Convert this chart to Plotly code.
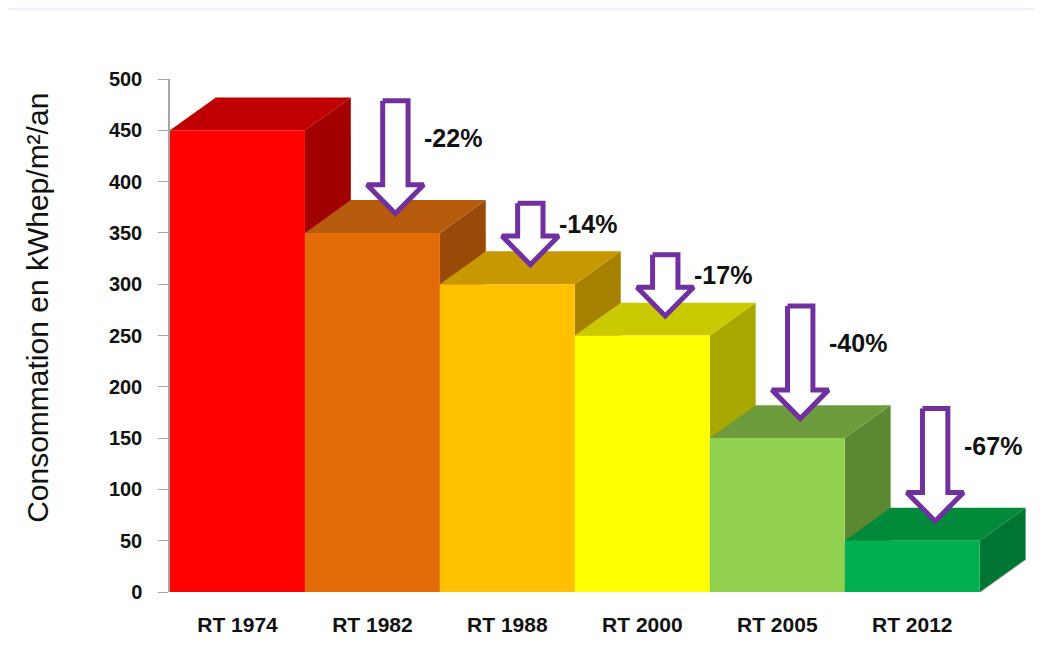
import plotly.graph_objects as go

categories = ["RT 1974", "RT 1982", "RT 1988", "RT 2000", "RT 2005", "RT 2012"]
values = [450, 350, 300, 250, 150, 50]
reductions = ["", "-22%", "-14%", "-17%", "-40%", "-67%"]
y_ticks = [0, 50, 100, 150, 200, 250, 300, 350, 400, 450, 500]

front_colors = ["#FF0000", "#E36C09", "#FFC000", "#FFFF00", "#92D050", "#00B050"]
top_colors = ["#C00000", "#B65A0B", "#C89800", "#CACA00", "#6E9C3C", "#008A3A"]
side_colors = ["#A20000", "#9A4A08", "#A88000", "#A8A800", "#5C8832", "#007632"]

FONT = "Liberation Sans, Arial, sans-serif"
DX = 0.34   # depth offset in category units
DY = 32     # depth offset in value units
HALF = 0.5
ARROW = "#7030A0"

fig = go.Figure()

def poly(xs, ys, color, line_color=None, width=0):
    fig.add_trace(go.Scatter(
        x=xs + [xs[0]], y=ys + [ys[0]], mode="lines", fill="toself",
        fillcolor=color, line=dict(color=line_color or color, width=width),
        hoverinfo="skip", showlegend=False))

# floor outline
fig.add_trace(go.Scatter(
    x=[-0.5 - 0.07, len(values) - 0.5, len(values) - 0.5 + DX],
    y=[0, 0, DY], mode="lines", line=dict(color="#A6A6A6", width=1.5),
    hoverinfo="skip", showlegend=False))

for i, v in enumerate(values):
    x0, x1 = i - HALF, i + HALF
    # side face
    poly([x1, x1 + DX, x1 + DX, x1], [0, DY, v + DY, v], side_colors[i])
    # top face
    poly([x0, x1, x1 + DX, x0 + DX], [v, v, v + DY, v + DY], top_colors[i])
    # front face
    poly([x0, x1, x1, x0], [0, 0, v, v], front_colors[i])

# arrows
for i in range(1, len(values)):
    cx = i + DX / 2
    tip = values[i] + DY / 2 + 3
    top = values[i - 1] + DY * 0.9
    head = tip + 28
    sw = 0.094
    hw = 0.21
    xs = [cx - sw, cx + sw, cx + sw, cx + hw, cx, cx - hw, cx - sw]
    ys = [top, top, head, head, tip, head, head]
    fig.add_trace(go.Scatter(
        x=xs + [xs[0]], y=ys + [ys[0]], mode="lines", fill="toself",
        fillcolor="white", line=dict(color=ARROW, width=5),
        hoverinfo="skip", showlegend=False))
    fig.add_annotation(
        x=cx + 0.2, y=top - 0.33 * (top - tip), text=reductions[i],
        showarrow=False, xanchor="left", yanchor="middle",
        font=dict(family=FONT, size=25, color="#111111", weight="bold"))

# y axis title
fig.add_annotation(
    xref="paper", yref="paper", x=-0.152, y=0.554, text="Consommation en kWhep/m²/an",
    textangle=-90, showarrow=False, xanchor="center", yanchor="middle",
    font=dict(family=FONT, size=30, color="#111111"))

# faint top band
fig.add_shape(type="rect", xref="paper", yref="paper",
              x0=-0.19, x1=1.02, y0=1.134, y1=1.143,
              fillcolor="#EEF0FA", line=dict(width=0), layer="below")

# page body has an 8px default margin; compensate so the plot lands where the reference has it
fig.update_layout(
    width=1035, height=645,
    margin=dict(l=162, r=5, t=71, b=61),
    paper_bgcolor="white", plot_bgcolor="white",
    showlegend=False,
    xaxis=dict(
        range=[-0.5, 5.932], tickmode="array",
        tickvals=list(range(len(categories))), ticktext=categories,
        showgrid=False, zeroline=False, showline=False, ticks="",
        ticklabelstandoff=18,
        tickfont=dict(family=FONT, size=21, color="#111111", weight="bold")),
    yaxis=dict(
        range=[0, 500], tickmode="array", tickvals=y_ticks,
        showgrid=False, zeroline=False, showline=True, linecolor="#A6A6A6",
        linewidth=1.5, ticks="outside", ticklen=10, tickcolor="#A6A6A6",
        ticklabelstandoff=12,
        tickfont=dict(family=FONT, size=20, color="#111111", weight="bold")),
)

fig.write_html("out.html")
